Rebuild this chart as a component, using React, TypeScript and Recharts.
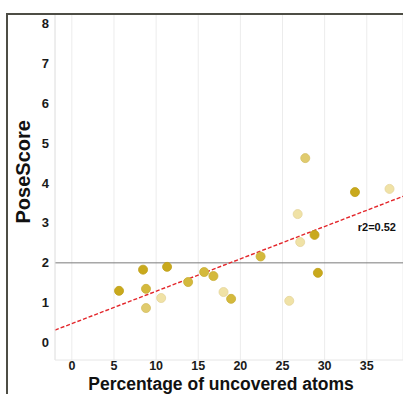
import React from 'react'
import {
  ScatterChart,
  Scatter,
  XAxis,
  YAxis,
  ZAxis,
  CartesianGrid,
  ReferenceLine,
  ReferenceDot,
  Cell,
} from 'recharts'

// uncovered atoms (%) vs PoseScore, with a shade level per ligand
const coverage = [5.6, 8.45, 8.8, 8.8, 10.6, 11.3, 13.8, 15.7, 16.8, 18.0, 18.9, 22.4, 25.8, 26.8, 27.1, 27.7, 28.8, 29.2, 33.6, 37.7]
const poseScore = [1.3, 1.83, 1.35, 0.87, 1.12, 1.9, 1.52, 1.77, 1.67, 1.27, 1.1, 2.16, 1.05, 3.22, 2.52, 4.62, 2.7, 1.75, 3.77, 3.85]
const shade = [0, 0, 1, 2, 3, 0, 1, 1, 1, 3, 1, 1, 3, 3, 3, 2, 0, 0, 0, 3]

const xTicks = [0, 5, 10, 15, 20, 25, 30, 35]
const yTicks = [0, 1, 2, 3, 4, 5, 6, 7, 8]

// fitted line
const slope = 0.081
const intercept = 0.48
const r2Label = 'r2=0.52'

const palette = ['#c9a91c', '#d4b93c', '#e0cb6e', '#f0e2a6']
const strokes = ['#bfa018', '#c9ae36', '#d6c066', '#e4d49a']

const xDomain: [number, number] = [-2, 39.3]
const yDomain: [number, number] = [-0.43, 8.2]

const points = coverage.map((x, i) => ({ x, y: poseScore[i], s: shade[i] }))

const font = 'Liberation Sans, Arial, sans-serif'

export default function App() {
  return (
    <div style={{ position: 'absolute', left: 0, top: 0, width: 403, height: 394, overflow: 'hidden', background: '#fff', fontFamily: font }}>
      {/* outer frame */}
      <div style={{ position: 'absolute', left: 6, top: 13, width: 420, height: 420, borderTop: '2px solid #4d4d45', borderLeft: '2px solid #4d4d45' }} />
      <ScatterChart
        width={403}
        height={394}
        margin={{ top: 15, right: 0, bottom: 0, left: 0 }}
        style={{ position: 'absolute', left: 0, top: 0 }}
      >
        <CartesianGrid horizontal={false} stroke="#ececec" strokeWidth={1} />
        <XAxis
          type="number"
          dataKey="x"
          domain={xDomain}
          ticks={xTicks}
          allowDataOverflow
          axisLine={{ stroke: '#e6e6e6' }}
          tickLine={false}
          tickSize={1}
          tick={{ fill: '#1a1a1a', fontSize: 12.5, fontWeight: 700, fontFamily: font }}
          tickMargin={0}
          height={34}
          label={{ value: 'Percentage of uncovered atoms', position: 'insideBottom', offset: 4, dx: -8, fill: '#111', fontSize: 17.5, fontWeight: 700, fontFamily: font }}
        />
        <YAxis
          type="number"
          dataKey="y"
          domain={yDomain}
          ticks={yTicks}
          allowDataOverflow
          width={55}
          axisLine={{ stroke: '#e6e6e6' }}
          tickLine={false}
          tick={{ fill: '#1a1a1a', fontSize: 13, fontWeight: 700, fontFamily: font }}
          tickMargin={0}
          label={{ value: 'PoseScore', angle: -90, position: 'insideLeft', offset: 23, dy: 36, fill: '#111', fontSize: 20, fontWeight: 700, fontFamily: font }}
        />
        <ZAxis range={[118, 118]} />
        <ReferenceLine y={2} stroke="#7a7a7a" strokeWidth={1} />
        <ReferenceLine
          segment={[
            { x: xDomain[0], y: intercept + slope * xDomain[0] },
            { x: xDomain[1], y: intercept + slope * xDomain[1] },
          ]}
          stroke="#e3262b"
          strokeWidth={1.4}
          strokeDasharray="4 2"
        />
        <Scatter data={points} isAnimationActive={false} shape="circle">
          {points.map((p, i) => (
            <Cell key={i} fill={palette[p.s]} stroke={strokes[p.s]} strokeWidth={0.8} />
          ))}
        </Scatter>
        <ReferenceDot
          x={36.2}
          y={2.9}
          r={0}
          fill="none"
          stroke="none"
          label={{ value: r2Label, position: 'center', fill: '#111', fontSize: 11, fontWeight: 700, fontFamily: font }}
        />
      </ScatterChart>
    </div>
  )
}
